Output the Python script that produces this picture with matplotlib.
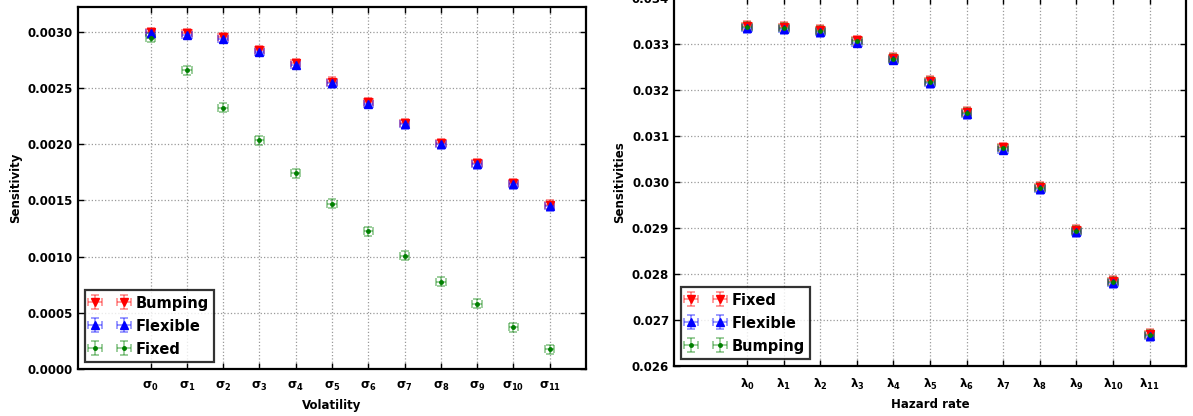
import numpy as np
import matplotlib.pyplot as plt

plt.rcParams['font.family'] = 'DejaVu Sans'
plt.rcParams['font.weight'] = 'bold'
plt.rcParams['mathtext.default'] = 'bf'
plt.rcParams['legend.numpoints'] = 2

vol_labels = [r'$\sigma_{%d}$' % i for i in range(12)]
vol_bumping = [0.002998, 0.002988, 0.002950, 0.002834, 0.002720, 0.002555,
               0.002372, 0.002188, 0.002010, 0.001832, 0.001654, 0.001462]
vol_flexible = [0.002985, 0.002975, 0.002938, 0.002822, 0.002708, 0.002543,
                0.002360, 0.002176, 0.001998, 0.001820, 0.001642, 0.001450]
vol_fixed = [0.002947, 0.002656, 0.002324, 0.002034, 0.001743, 0.001468,
             0.001226, 0.001006, 0.000778, 0.000582, 0.000371, 0.000175]

haz_labels = [r'$\lambda_{%d}$' % i for i in range(12)]
haz_fixed = [0.033395, 0.033372, 0.033312, 0.033080, 0.032705, 0.032195,
             0.031530, 0.030756, 0.029898, 0.028962, 0.027852, 0.026698]
haz_flexible = [0.033345, 0.033322, 0.033262, 0.033030, 0.032655, 0.032145,
                0.031480, 0.030706, 0.029848, 0.028912, 0.027802, 0.026652]
haz_bumping = [0.033370, 0.033347, 0.033289, 0.033058, 0.032682, 0.032173,
               0.031508, 0.030734, 0.029877, 0.028941, 0.027832, 0.026678]

vol_xerr, vol_yerr = 0.13, 0.00004
haz_xerr, haz_yerr = 0.13, 0.0001

fig = plt.figure(figsize=(11.93, 4.16), dpi=100)
ax1 = fig.add_axes([0.0654, 0.113, 0.4258, 0.870])
ax2 = fig.add_axes([0.565, 0.1202, 0.4292, 0.8846])


def series(ax, x, y, xe, ye, fmt, col, lab, ms):
    ax.errorbar(x, y, xerr=xe, yerr=ye, fmt=fmt, color=col, ecolor=col,
                elinewidth=1.2, capsize=3, capthick=1.2, markersize=ms,
                markeredgecolor=col, label=lab)
    # fade the bars, keep the markers solid
    for c in ax.containers[-1].get_children()[1:]:
        c.set_alpha(0.45)


x = np.arange(len(vol_labels))
series(ax1, x, vol_bumping, vol_xerr, vol_yerr, 'v', 'red', 'Bumping', 6)
series(ax1, x, vol_flexible, vol_xerr, vol_yerr, '^', 'blue', 'Flexible', 6)
series(ax1, x, vol_fixed, vol_xerr, vol_yerr, '.', 'green', 'Fixed', 5)

series(ax2, x, haz_fixed, haz_xerr, haz_yerr, 'v', 'red', 'Fixed', 6)
series(ax2, x, haz_flexible, haz_xerr, haz_yerr, '^', 'blue', 'Flexible', 6)
series(ax2, x, haz_bumping, haz_xerr, haz_yerr, '.', 'green', 'Bumping', 5)

ax1.set_ylim(0, 0.00322)
ax1.set_yticks(np.arange(0, 0.0031, 0.0005))
ax1.yaxis.set_major_formatter(plt.FormatStrFormatter('%.4f'))
ax1.set_xticks(x)
ax1.set_xticklabels(vol_labels)
ax1.set_xlabel('Volatility', fontsize=8.5, fontweight='bold')
ax1.set_ylabel('Sensitivity', fontsize=8.5, fontweight='bold')

ax2.set_ylim(0.026, 0.034)
ax2.set_yticks(np.arange(0.026, 0.0345, 0.001))
ax2.yaxis.set_major_formatter(plt.FormatStrFormatter('%.3f'))
ax2.set_xticks(x)
ax2.set_xticklabels(haz_labels)
ax2.set_xlabel('Hazard rate', fontsize=8.5, fontweight='bold')
ax2.set_ylabel('Sensitivities', fontsize=8.5, fontweight='bold')

for ax in (ax1, ax2):
    ax.set_xlim(-2, 12)
    ax.grid(True, color='0.6', linestyle=':', linewidth=0.9)
    ax.tick_params(direction='in', top=True, right=True, labelsize=8.5,
                   length=4, width=1)
    ax.tick_params(axis='x', pad=8)
    for s in ax.spines.values():
        s.set_linewidth(1.6)
    leg = ax.legend(loc='lower left', fontsize=10.5, fancybox=False,
                    handlelength=2.6, borderaxespad=0.5, handletextpad=0.5,
                    labelspacing=0.55, borderpad=0.35, handleheight=1.0)
    leg.get_frame().set_edgecolor('black')
    leg.get_frame().set_linewidth(1.6)
    for t in leg.get_texts():
        t.set_fontweight('bold')

fig.savefig('out.png', dpi=100)
